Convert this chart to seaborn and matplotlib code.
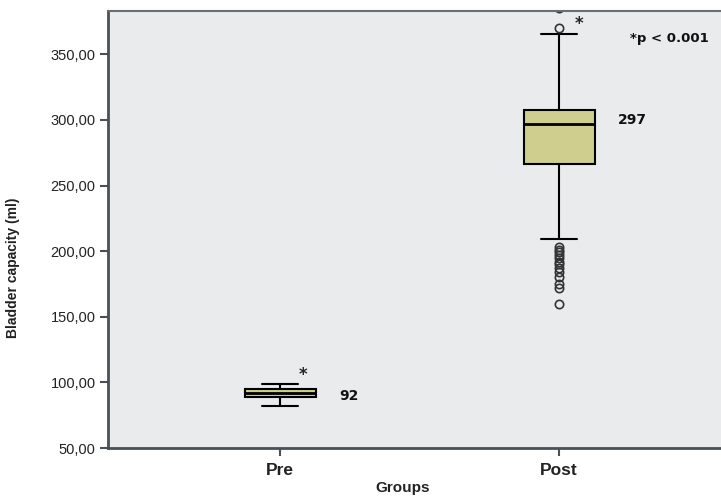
import matplotlib
matplotlib.use("Agg")
import matplotlib.pyplot as plt
import seaborn as sns

# box summary (ml)
groups = ["Pre", "Post"]
whisker_low = [82, 209]
q1 = [89, 266.5]
medians = [92, 297]
q3 = [95, 307.5]
whisker_high = [98.5, 365.5]
outliers = [[], [370, 385, 203, 201, 199, 197, 195, 192, 190, 187, 184, 180, 175, 172, 160]]
median_labels = ["92", "297"]

sns.set_style("ticks")
sans = ["Liberation Sans", "DejaVu Sans"]

fig = plt.figure(figsize=(7.21, 5), dpi=100)
ax = fig.add_axes([0.1498, 0.104, 0.8502, 0.874])
ax.set_facecolor("#EAEBEC")

stats = []
for i, g in enumerate(groups):
    stats.append({"label": g, "whislo": whisker_low[i], "q1": q1[i], "med": medians[i],
                  "q3": q3[i], "whishi": whisker_high[i], "fliers": outliers[i]})

ax.bxp(stats, positions=range(len(groups)), widths=0.255, patch_artist=True,
       boxprops=dict(facecolor="#CFCE8F", edgecolor="black", linewidth=1.5),
       medianprops=dict(color="black", linewidth=2),
       whiskerprops=dict(color="black", linewidth=1.5),
       capprops=dict(color="black", linewidth=1.5), capwidths=0.13,
       flierprops=dict(marker="o", markerfacecolor="none", markeredgecolor="#333333",
                       markersize=6, markeredgewidth=1.2))

label_shift = [-2.4, 2.7]
for i, lab in enumerate(median_labels):
    ax.text(i + 0.21, medians[i] + label_shift[i], lab, fontsize=10, fontweight="bold",
            va="center", ha="left", color="#111111")

ax.text(0.082, 105.5, "*", fontsize=12, fontweight="bold", ha="center", va="center")
ax.text(1.07, 373, "*", fontsize=12, fontweight="bold", ha="center", va="center")
ax.text(1.254, 362, "*p < 0.001", fontsize=9.5, fontweight="bold", ha="left", va="center",
        color="#111111")

ax.set_xlim(-0.617, 1.58)
ax.set_ylim(50, 383)
ax.set_yticks([50, 100, 150, 200, 250, 300, 350])
ax.set_yticklabels([f"{v},00" for v in [50, 100, 150, 200, 250, 300, 350]],
                   fontsize=10.5, family=sans, color="#222222")
ax.set_xticks(range(len(groups)))
ax.set_xticklabels(groups, fontsize=12.5, fontweight="bold", family=sans, color="#222222")
ax.tick_params(axis="both", length=6, width=1.5, color="#4a5058", direction="out")
ax.tick_params(axis="x", pad=5)
ax.tick_params(axis="y", pad=3)

ax.set_xlabel("Groups", fontsize=11, fontweight="bold", family=sans, color="#222222")
ax.xaxis.set_label_coords(0.481, -0.075)
ax.set_ylabel("Bladder capacity (ml)", fontsize=10, fontweight="bold", family=sans,
              color="#222222")
ax.yaxis.set_label_coords(-0.1436, 0.412)

for side in ["left", "bottom"]:
    ax.spines[side].set_color("#4a5058")
    ax.spines[side].set_linewidth(2)
ax.spines["top"].set_color("#6a6f75")
ax.spines["top"].set_linewidth(1.5)
ax.spines["right"].set_visible(False)

fig.savefig("out.png", dpi=100)
